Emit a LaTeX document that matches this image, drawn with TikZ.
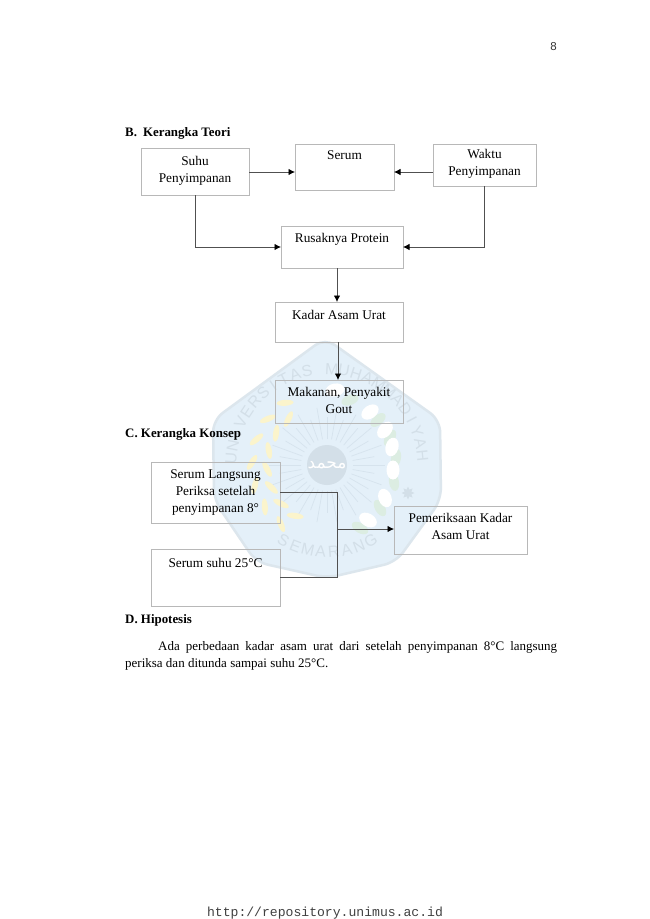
\documentclass[tikz,border=0pt]{standalone}
\usepackage{fontspec}
\setmainfont{Liberation Serif}
\setsansfont{Liberation Sans}
\setmonofont{Liberation Mono}
\newfontfamily\arabicfont[Script=Arabic]{DejaVu Sans}
\TeXXeTstate=1
\usetikzlibrary{arrows.meta,shapes.geometric}
\definecolor{wmfill}{HTML}{E4F0F9}
\definecolor{wmedge}{HTML}{DCE6ED}
\definecolor{wmtext}{HTML}{D3DFE8}
\definecolor{wmray}{HTML}{D6E3ED}
\definecolor{wmleaf}{HTML}{FBF4CC}
\definecolor{wmgreen}{HTML}{DCEDE2}
\definecolor{boxline}{HTML}{B8B8B8}
\definecolor{conline}{HTML}{505050}
\tikzset{
  boxst/.style={draw=boxline,line width=0.8pt,inner sep=0pt,outer sep=0pt,anchor=north west},
  con/.style={draw=conline,line width=0.8pt},
  arr/.style={con,-{Latex[length=6.5pt,width=6.5pt,color=black]}},
  head/.style={anchor=base west,inner sep=0pt,font=\fontsize{12.9}{17}\selectfont\bfseries},
  bodytext/.style={anchor=north west,inner sep=0pt,font=\fontsize{13}{17}\selectfont},
  leaf/.style={fill=wmleaf,draw=none,ellipse,minimum width=17pt,minimum height=6pt,inner sep=0pt},
  bloom/.style={fill=white,draw=none,ellipse,minimum width=19pt,minimum height=13pt,inner sep=0pt},
  sprig/.style={fill=wmgreen,draw=none,ellipse,minimum width=18pt,minimum height=10pt,inner sep=0pt},
  wmletter/.style={inner sep=0pt,text=wmtext,font=\sffamily\fontsize{16}{16}\selectfont},
}
\newcommand{\bx}[7]{%
  \pgfmathsetmacro{\bw}{#4-#2}\pgfmathsetmacro{\bh}{#5-#3}%
  \node[boxst] (#1) at (#2,#3) {\parbox[c][\bh pt][t]{\bw pt}{\fontsize{13.3}{17}\selectfont\centering\vspace*{#6pt}\rule{0pt}{10pt}#7\par}};}
\begin{document}
\begin{tikzpicture}[x=1pt,y=-1pt]
\useasboundingbox (0,0) rectangle (650,919);
\fill[white] (0,0) rectangle (650,919);
% watermark
\coordinate (wc) at (327,465);
\fill[wmfill,draw=wmedge,line width=2.5pt,rounded corners=12pt,line join=round]
  (325,338) -- (440,420) -- (441,500) -- (396,562) -- (327,578) -- (256,562) -- (214,500) -- (213,420) -- cycle;
\foreach \a in {0,10,...,350}{
  \draw[wmray,line width=0.7pt] (wc)++(\a:26pt) -- ++(\a:{mod(\a,20)==0 ? 32pt : 22pt});
}
\fill[wmtext] (wc) circle (20pt);
\node[inner sep=0pt,text=white,font=\arabicfont\fontsize{17}{17}\selectfont] (wmname) at (wc) {\beginR محمد\endR};
\foreach \a in {124,142,...,236}{
  \pgfmathsetmacro{\tilt}{\a+90-30}
  \node[leaf,rotate=\tilt] at ([shift={(\a:75pt)}]wc) {};
  \pgfmathsetmacro{\tilt}{\a+90+30}
  \node[leaf,rotate=\tilt] at ([shift={(\a+6:60pt)}]wc) {};
}
\foreach \x/\y/\t in {350/400/20,378/420/40,390/438/60,396/458/80,394/482/100,380/508/120,360/528/150}{
  \node[sprig,rotate=\t] at (\x,\y) {};
}
\foreach \x/\y/\t in {335/390/10,370/412/35,385/430/50,392/447/75,393/470/90,385/498/110,368/520/150}{
  \node[bloom,rotate=\t] at (\x,\y) {};
}
\node[star,star points=8,star point ratio=1.8,fill=wmtext,draw=none,minimum size=13pt,inner sep=0pt] (wmstar) at (408,493) {};
\foreach \ch [count=\i] in {U,N,I,V,E,R,S,I,T,A,S,{ },M,U,H,A,M,M,A,D,I,Y,A,H}{
  \pgfmathsetmacro{\ang}{176-(\i-1)*7.4}
  \pgfmathsetmacro{\rot}{\ang-90}
  \node[wmletter,rotate=\rot] at ([shift={(\ang:96pt)}]wc) {\ch};
}
\foreach \ch [count=\i] in {S,E,M,A,R,A,N,G}{
  \pgfmathsetmacro{\ang}{240+(\i-1)*8.6}
  \pgfmathsetmacro{\rot}{\ang+90}
  \node[wmletter,rotate=\rot] at ([shift={(\ang:87pt)}]wc) {\ch};
}
% page text
\node[anchor=base east,inner sep=0pt,font=\sffamily\fontsize{11.5}{14}\selectfont,text=black!80] (pg) at (557,50) {8};
\node[head] (hb) at (125,136) {B.\hspace{6pt}Kerangka Teori};
\node[head] (hc) at (125,437) {C. Kerangka Konsep};
\node[head] (hd) at (125,623) {D. Hipotesis};
\node[bodytext] (para) at (125,641) {\parbox[t]{432pt}{\fontsize{13}{17}\selectfont\setlength{\parindent}{33pt}\indent Ada perbedaan kadar asam urat dari setelah penyimpanan 8°C langsung\linebreak periksa dan ditunda sampai suhu 25°C.}};
\node[anchor=base,inner sep=0pt,font=\ttfamily\fontsize{13.1}{15}\selectfont,text=black!75] (url) at (325,916) {http://repository.unimus.ac.id};
% boxes
\bx{suhu}{141}{148}{249}{195}{7}{Suhu\\Penyimpanan}
\bx{serum}{295}{144}{394}{190}{5}{Serum}
\bx{waktu}{433}{144}{536}{186}{4}{Waktu\\Penyimpanan}
\bx{rusak}{281}{226}{403}{268}{6}{Rusaknya Protein}
\bx{kadar}{275}{302}{403}{342}{7}{Kadar Asam Urat}
\bx{makan}{275}{380}{403}{423}{6}{Makanan, Penyakit\\Gout}
\bx{serl}{151}{462}{280}{523}{6}{Serum Langsung\\Periksa setelah\\penyimpanan 8°}
\bx{sers}{151}{549}{280}{606}{8}{Serum suhu 25°C}
\bx{pem}{394}{506}{527}{554}{6}{Pemeriksaan Kadar\\Asam Urat}
% connectors
\draw[arr] ([yshift=-0.5pt]suhu.east) -- ([yshift=-0.5pt]suhu.east -| serum.west);
\draw[arr] ([yshift=-0.5pt]waktu.west |- suhu.east) -- ([yshift=-0.5pt]serum.east |- suhu.east);
\draw[arr] (suhu.south) |- (rusak.west);
\draw[arr] (waktu.south) |- (rusak.east);
\draw[arr] ([xshift=-5pt]rusak.south) -- ([xshift=-5pt]rusak.south |- kadar.north);
\draw[arr] ([xshift=-1pt]kadar.south) -- ([xshift=-1pt]makan.north);
\coordinate (jn) at (337,529);
\draw[con] (serl.east) -| (jn);
\draw[con] (sers.east) -| (jn);
\draw[arr] (jn) -- (jn -| pem.west);
\end{tikzpicture}
\end{document}
